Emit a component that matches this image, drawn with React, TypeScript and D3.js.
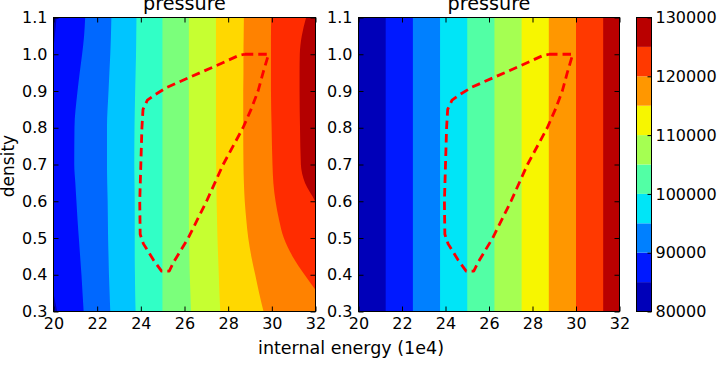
import React, { useEffect, useRef } from 'react';
import * as d3 from 'd3';

// density values at which the left contour boundaries were read
const densitySamples = [0.3, 0.35, 0.4, 0.45, 0.5, 0.55, 0.6, 0.65, 0.7, 0.8, 0.9, 0.95, 1.0, 1.05, 1.1];

// left panel: internal energy (1e4) of each contour boundary at the density samples above
const leftBoundary1 = [20.17, 20.0, 19.85, 19.75, 19.7, 19.65, 19.6, 19.58, 19.55, 19.6, 19.7, 19.85, 19.97, 20.06, 20.14];
const leftBoundary2 = [21.38, 21.33, 21.28, 21.22, 21.16, 21.1, 21.05, 21.0, 20.95, 20.96, 21.1, 21.2, 21.31, 21.4, 21.45];
const leftBoundary3 = [22.6, 22.57, 22.54, 22.52, 22.5, 22.49, 22.48, 22.46, 22.45, 22.45, 22.52, 22.56, 22.6, 22.63, 22.65];
const leftBoundary4 = [23.76, 23.74, 23.73, 23.72, 23.72, 23.72, 23.72, 23.71, 23.7, 23.71, 23.74, 23.76, 23.78, 23.79, 23.8];
const leftBoundary5 = [24.99, 24.99, 24.99, 24.99, 24.99, 24.99, 24.99, 24.99, 24.99, 24.99, 24.99, 24.99, 24.99, 24.99, 24.99];
const leftBoundary6 = [26.3, 26.27, 26.24, 26.22, 26.21, 26.2, 26.2, 26.2, 26.2, 26.2, 26.2, 26.2, 26.2, 26.2, 26.2];
const leftBoundary7 = [27.64, 27.6, 27.57, 27.54, 27.51, 27.49, 27.47, 27.46, 27.45, 27.44, 27.44, 27.44, 27.44, 27.44, 27.44];
const leftBoundary8 = [29.62, 29.42, 29.24, 29.06, 28.92, 28.83, 28.76, 28.72, 28.7, 28.69, 28.69, 28.7, 28.7, 28.71, 28.72];
const leftBoundary9 = [32.6, 32.1, 31.5, 30.95, 30.55, 30.33, 30.17, 30.07, 30.03, 29.99, 29.96, 29.96, 29.96, 29.96, 29.97];
const leftBoundary10 = [33.5, 33.2, 32.9, 32.6, 32.4, 32.2, 31.98, 31.52, 31.33, 31.29, 31.27, 31.27, 31.28, 31.37, 31.57];
const leftBoundaries = [leftBoundary1, leftBoundary2, leftBoundary3, leftBoundary4, leftBoundary5,
  leftBoundary6, leftBoundary7, leftBoundary8, leftBoundary9, leftBoundary10];

// right panel: boundaries are straight, pressure only depends on energy
const rightBoundaries = [21.25, 22.5, 23.75, 25.0, 26.25, 27.5, 28.75, 30.0, 31.25];

const colorbarLevels = [80000, 85000, 90000, 95000, 100000, 105000, 110000, 115000, 120000, 125000, 130000];
const colorbarTicks = [80000, 90000, 100000, 110000, 120000, 130000];

const xTicks = [20, 22, 24, 26, 28, 30, 32];
const yTicks = [0.3, 0.4, 0.5, 0.6, 0.7, 0.8, 0.9, 1.0, 1.1];

// dashed red trajectory (energy, density)
const pathEnergy = [28.76, 29.85, 29.6, 29.37, 29.05, 28.68, 27.77, 27.01, 26.17, 25.5, 25.3, 24.95, 24.58,
  24.12, 23.97, 23.95, 24.0, 24.05, 24.1, 24.3, 24.65, 25.2, 27.3, 28.5, 28.76];
const pathDensity = [1.0, 1.0, 0.95, 0.9, 0.85, 0.8, 0.7, 0.6, 0.5, 0.434, 0.41, 0.41, 0.44,
  0.484, 0.51, 0.6, 0.7, 0.8, 0.85, 0.875, 0.89, 0.91, 0.965, 0.997, 1.0];

function jet(t: number) {
  const seg = (pts: number[][]) => {
    for (let i = 1; i < pts.length; i++) {
      if (t <= pts[i][0]) {
        const [x0, y0] = pts[i - 1];
        const [x1, y1] = pts[i];
        return y0 + (y1 - y0) * (t - x0) / (x1 - x0);
      }
    }
    return pts[pts.length - 1][1];
  };
  const r = seg([[0, 0], [0.35, 0], [0.66, 1], [0.89, 1], [1, 0.5]]);
  const g = seg([[0, 0], [0.125, 0], [0.375, 1], [0.64, 1], [0.91, 0], [1, 0]]);
  const b = seg([[0, 0.5], [0.11, 1], [0.34, 1], [0.65, 0], [1, 0]]);
  return d3.rgb(r * 255, g * 255, b * 255).formatHex();
}

const FONT = 'DejaVu Sans';

export default function App() {
  const ref = useRef<SVGSVGElement>(null);

  useEffect(() => {
    const svg = d3.select(ref.current);
    svg.selectAll('*').remove();

    const top = 17.5;
    const bottom = 311.5;
    const y = d3.scaleLinear().domain([0.3, 1.1]).range([bottom, top]);
    const xLeft = d3.scaleLinear().domain([20, 32]).range([53.5, 315.5]);
    const xRight = d3.scaleLinear().domain([20, 32]).range([358.5, 619.5]);

    const defs = svg.append('defs');
    [['clipL', xLeft], ['clipR', xRight]].forEach(([id, x]: any) => {
      defs.append('clipPath').attr('id', id)
        .append('rect')
        .attr('x', x.range()[0]).attr('y', top)
        .attr('width', x.range()[1] - x.range()[0]).attr('height', bottom - top);
    });

    // Left panel bands
    const nLeft = leftBoundaries.length + 1;
    const gL = svg.append('g').attr('clip-path', 'url(#clipL)');
    gL.append('rect')
      .attr('x', xLeft.range()[0]).attr('y', top)
      .attr('width', xLeft.range()[1] - xLeft.range()[0]).attr('height', bottom - top)
      .attr('fill', jet(0.5 / nLeft));
    const area = d3.area<number>()
      .y((d, i) => y(densitySamples[i]))
      .x0(d => xLeft(d))
      .x1(() => xLeft(40))
      .curve(d3.curveMonotoneY);
    gL.selectAll('.band')
      .data(leftBoundaries)
      .join('path')
      .attr('class', 'band')
      .attr('d', d => area(d))
      .attr('fill', (d, i) => jet((i + 1.5) / nLeft));

    // Right panel bands
    const nRight = rightBoundaries.length + 1;
    const gR = svg.append('g').attr('clip-path', 'url(#clipR)');
    gR.selectAll('rect')
      .data([20, ...rightBoundaries])
      .join('rect')
      .attr('x', d => xRight(d))
      .attr('y', top)
      .attr('width', d => xRight(32) - xRight(d))
      .attr('height', bottom - top)
      .attr('fill', (d, i) => jet((i + 0.5) / nRight));

    // dashed trajectory on both panels
    const pts = pathEnergy.map((e, i) => [e, pathDensity[i]]);
    [xLeft, xRight].forEach(x => {
      const line = d3.line<number[]>().x(d => x(d[0])).y(d => y(d[1]));
      svg.append('path')
        .attr('d', line(pts))
        .attr('fill', 'none')
        .attr('stroke', '#ff0000')
        .attr('stroke-width', 2.8)
        .attr('stroke-dasharray', '8.5,5')
        .attr('stroke-linejoin', 'round');
    });

    // Axes and frames
    [xLeft, xRight].forEach(x => {
      const styleAxis = (g: any) => {
        g.select('.domain').remove();
        g.selectAll('text').attr('font-family', FONT).attr('font-size', 16).attr('fill', '#000');
        g.selectAll('line').attr('stroke', '#000');
      };
      svg.append('g').attr('transform', `translate(0,${bottom})`)
        .call(d3.axisBottom(x).tickValues(xTicks).tickFormat(d3.format('d')).tickSizeInner(-5).tickSizeOuter(0).tickPadding(6))
        .call(styleAxis);
      svg.append('g').attr('transform', `translate(0,${top})`)
        .call(d3.axisTop(x).tickValues(xTicks).tickFormat(() => '').tickSizeInner(-5).tickSizeOuter(0))
        .call(styleAxis);
      svg.append('g').attr('transform', `translate(${x.range()[0]},0)`)
        .call(d3.axisLeft(y).tickValues(yTicks).tickFormat(d3.format('.1f')).tickSizeInner(-5).tickSizeOuter(0).tickPadding(6))
        .call(styleAxis);
      svg.append('g').attr('transform', `translate(${x.range()[1]},0)`)
        .call(d3.axisRight(y).tickValues(yTicks).tickFormat(() => '').tickSizeInner(-5).tickSizeOuter(0))
        .call(styleAxis);
      svg.append('rect')
        .attr('x', x.range()[0]).attr('y', top)
        .attr('width', x.range()[1] - x.range()[0]).attr('height', bottom - top)
        .attr('fill', 'none').attr('stroke', '#000').attr('stroke-width', 1);
      svg.append('text')
        .attr('x', (x.range()[0] + x.range()[1]) / 2)
        .attr('y', 9.5)
        .attr('text-anchor', 'middle')
        .attr('font-family', FONT).attr('font-size', 19.2)
        .text('pressure');
    });

    // Colorbar
    const cbLeft = 636.5;
    const cbRight = 651.5;
    const yc = d3.scaleLinear().domain([80000, 130000]).range([bottom, top]);
    const nCb = colorbarLevels.length - 1;
    svg.append('g').selectAll('rect')
      .data(colorbarLevels.slice(0, -1))
      .join('rect')
      .attr('x', cbLeft)
      .attr('y', (d, i) => yc(colorbarLevels[i + 1]))
      .attr('width', cbRight - cbLeft)
      .attr('height', (d, i) => yc(d) - yc(colorbarLevels[i + 1]))
      .attr('fill', (d, i) => jet((i + 0.5) / nCb));
    svg.append('rect')
      .attr('x', cbLeft).attr('y', top)
      .attr('width', cbRight - cbLeft).attr('height', bottom - top)
      .attr('fill', 'none').attr('stroke', '#000');
    svg.append('g').attr('transform', `translate(${cbRight},0)`)
      .call(d3.axisRight(yc).tickValues(colorbarTicks).tickFormat(d3.format('d')).tickSizeInner(-4).tickSizeOuter(0).tickPadding(4))
      .call((g: any) => {
        g.select('.domain').remove();
        g.selectAll('text').attr('font-family', FONT).attr('font-size', 16).attr('fill', '#000');
        g.selectAll('line').attr('stroke', '#000');
      });

    // Axis labels
    svg.append('text')
      .attr('x', 351).attr('y', 354)
      .attr('text-anchor', 'middle')
      .attr('font-family', FONT).attr('font-size', 17.5)
      .text('internal energy (1e4)');
    svg.append('text')
      .attr('transform', 'translate(14,166) rotate(-90)')
      .attr('text-anchor', 'middle')
      .attr('font-family', FONT).attr('font-size', 17)
      .text('density');
  }, []);

  return (
    <svg ref={ref} width={717} height={368}
      style={{ position: 'absolute', left: 0, top: 0, background: '#fff' }} />
  );
}
